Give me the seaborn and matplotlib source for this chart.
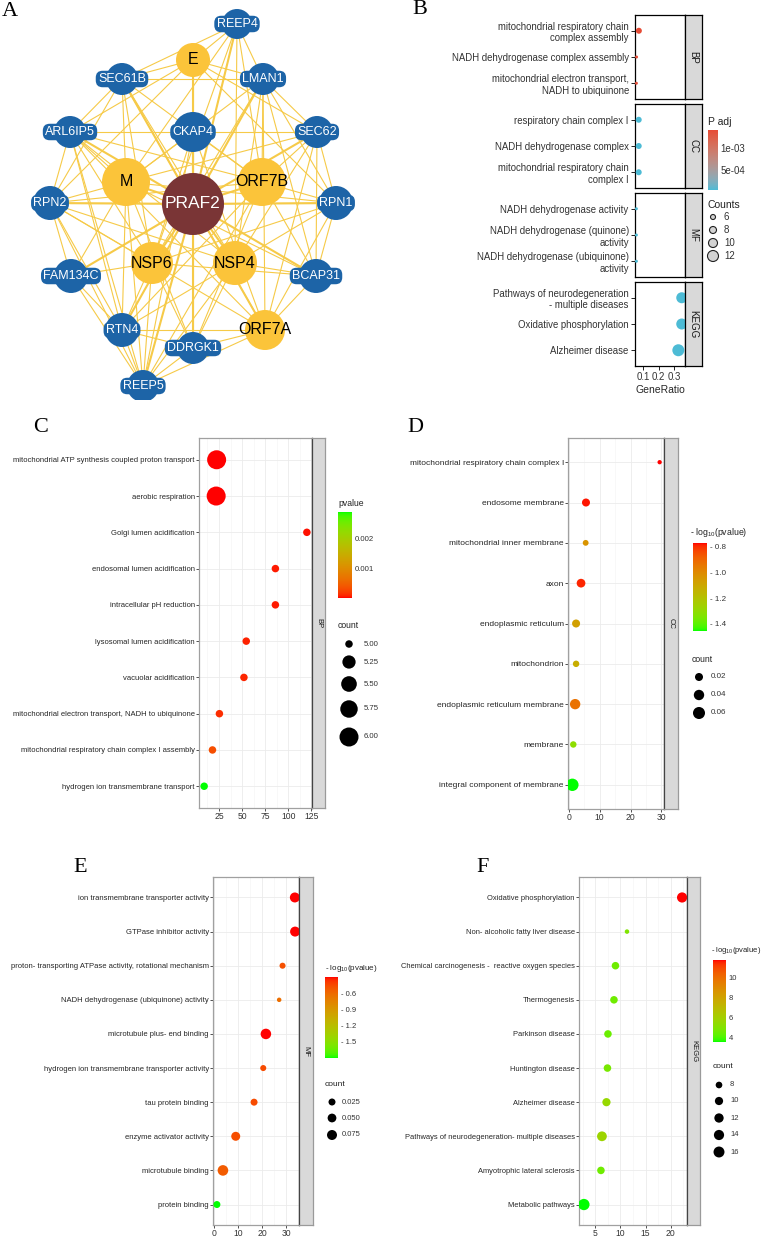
import numpy as np
import pandas as pd
import seaborn as sns
import matplotlib
import matplotlib.pyplot as plt
from matplotlib.colors import ListedColormap, Normalize
from matplotlib.cm import ScalarMappable
from matplotlib.collections import LineCollection
from matplotlib.patches import Circle

sns.set_style("white")
SANS = ["Liberation Sans", "DejaVu Sans"]
SERIF = ["Liberation Serif", "DejaVu Serif"]
plt.rcParams["font.family"] = SANS

# ---------------- data: network (panel A) ----------------
node_names = ["PRAF2", "M", "ORF7B", "NSP6", "NSP4", "E", "ORF7A",
              "CKAP4", "REEP4", "SEC61B", "LMAN1", "ARL6IP5", "SEC62", "RPN2", "RPN1",
              "FAM134C", "BCAP31", "RTN4", "DDRGK1", "REEP5"]
node_group = ["hub", "virus", "virus", "virus", "virus", "virus", "virus",
              "host", "host", "host", "host", "host", "host", "host", "host",
              "host", "host", "host", "host", "host"]
# layout positions (px inside panel A)
node_x = [193, 126, 262, 152, 235, 193, 265, 193, 237, 122, 263, 70, 317, 50, 336, 71, 316, 122, 193, 143]
node_y = [204, 182, 182, 263, 263, 60, 330, 132, 24, 79, 79, 132, 132, 203, 203, 276, 276, 330, 348, 386]
node_r = [31, 24, 24, 21, 22, 17, 20, 20, 15, 16, 16, 16, 16, 17, 17, 17, 17, 17, 16, 16]
edge_list = [
    "PRAF2 M", "PRAF2 ORF7B", "PRAF2 NSP6", "PRAF2 NSP4", "PRAF2 E", "PRAF2 ORF7A", "PRAF2 CKAP4",
    "PRAF2 REEP4", "PRAF2 SEC61B", "PRAF2 LMAN1", "PRAF2 ARL6IP5", "PRAF2 SEC62", "PRAF2 RPN2",
    "PRAF2 RPN1", "PRAF2 FAM134C", "PRAF2 BCAP31", "PRAF2 RTN4", "PRAF2 DDRGK1", "PRAF2 REEP5",
    "M REEP4", "M SEC61B", "M ARL6IP5", "M RPN2", "M RPN1", "M FAM134C", "M RTN4", "M REEP5",
    "M DDRGK1", "M CKAP4", "M BCAP31", "M LMAN1", "M SEC62",
    "ORF7B REEP4", "ORF7B LMAN1", "ORF7B SEC62", "ORF7B RPN1", "ORF7B BCAP31", "ORF7B CKAP4",
    "ORF7B SEC61B", "ORF7B RPN2", "ORF7B RTN4", "ORF7B DDRGK1", "ORF7B REEP5", "ORF7B ARL6IP5",
    "NSP6 REEP4", "NSP6 SEC61B", "NSP6 ARL6IP5", "NSP6 RPN2", "NSP6 FAM134C", "NSP6 RTN4",
    "NSP6 REEP5", "NSP6 DDRGK1", "NSP6 CKAP4", "NSP6 LMAN1", "NSP6 RPN1", "NSP6 BCAP31",
    "NSP4 REEP4", "NSP4 LMAN1", "NSP4 SEC62", "NSP4 RPN1", "NSP4 BCAP31", "NSP4 REEP5",
    "NSP4 DDRGK1", "NSP4 RTN4", "NSP4 SEC61B", "NSP4 ARL6IP5", "NSP4 RPN2",
    "ORF7A LMAN1", "ORF7A SEC62", "ORF7A RPN1", "ORF7A BCAP31", "ORF7A REEP5", "ORF7A RTN4",
    "ORF7A DDRGK1", "ORF7A SEC61B", "ORF7A ARL6IP5", "ORF7A RPN2", "ORF7A CKAP4",
    "E REEP4", "E SEC61B", "E LMAN1", "E ARL6IP5", "E RPN2", "E DDRGK1", "E SEC62", "E RPN1",
    "SEC61B ARL6IP5", "SEC61B LMAN1", "SEC61B REEP4", "RPN2 RPN1", "RPN2 FAM134C", "RPN2 ARL6IP5",
    "RTN4 REEP5", "RTN4 FAM134C", "ARL6IP5 REEP5", "RPN2 REEP5", "LMAN1 SEC62", "SEC62 RPN1",
    "RPN1 BCAP31", "CKAP4 SEC62", "CKAP4 ARL6IP5", "RTN4 DDRGK1", "DDRGK1 REEP5", "LMAN1 RPN1",
    "REEP4 LMAN1", "ARL6IP5 RTN4", "LMAN1 BCAP31", "RPN2 RTN4", "REEP5 CKAP4", "BCAP31 SEC62",
    "FAM134C REEP5", "SEC61B RPN2",
]

# ---------------- data: panel B ----------------
b_terms = ["mitochondrial respiratory chain\ncomplex assembly", "NADH dehydrogenase complex assembly",
           "mitochondrial electron transport,\nNADH to ubiquinone",
           "respiratory chain complex I", "NADH dehydrogenase complex",
           "mitochondrial respiratory chain\ncomplex I",
           "NADH dehydrogenase activity", "NADH dehydrogenase (quinone)\nactivity",
           "NADH dehydrogenase (ubiquinone)\nactivity",
           "Pathways of neurodegeneration\n- multiple diseases", "Oxidative phosphorylation",
           "Alzheimer disease"]
b_facet = ["BP", "BP", "BP", "CC", "CC", "CC", "MF", "MF", "MF", "KEGG", "KEGG", "KEGG"]
b_ratio = [0.073, 0.058, 0.057, 0.072, 0.072, 0.072, 0.057, 0.057, 0.057, 0.350, 0.350, 0.328]
b_count = [7, 4, 4, 7, 7, 7, 4, 4, 4, 12, 12, 13]
b_padj = [1.41e-3, 1.38e-3, 1.38e-3, 4.6e-5, 4.6e-5, 4.6e-5, 4.5e-5, 4.5e-5, 4.5e-5, 4.5e-5, 4.5e-5, 4.6e-5]

# ---------------- data: panel C (BP) ----------------
c_terms = ["mitochondrial ATP synthesis coupled proton transport", "aerobic respiration",
           "Golgi lumen acidification", "endosomal lumen acidification", "intracellular pH reduction",
           "lysosomal lumen acidification", "vacuolar acidification",
           "mitochondrial electron transport, NADH to ubiquinone",
           "mitochondrial respiratory chain complex I assembly", "hydrogen ion transmembrane transport"]
c_x = [22.5, 22.0, 120.0, 86.0, 86.0, 54.5, 52.0, 25.5, 18.0, 9.0]
c_pvalue = [2e-6, 2e-6, 3e-5, 5e-5, 5e-5, 8e-5, 9e-5, 1.2e-4, 3.2e-4, 2.87e-3]
c_count = [6, 6, 5, 5, 5, 5, 5, 5, 5, 5]

# ---------------- data: panel D (CC) ----------------
d_terms = ["mitochondrial respiratory chain complex I", "endosome membrane", "mitochondrial inner membrane",
           "axon", "endoplasmic reticulum", "mitochondrion", "endoplasmic reticulum membrane",
           "membrane", "integral component of membrane"]
d_x = [29.4, 5.6, 5.5, 4.0, 2.4, 2.4, 2.1, 1.5, 1.2]
d_logp = [-0.77, -0.78, -1.03, -0.79, -1.07, -1.12, -0.93, -1.31, -1.455]
d_count = [0.008, 0.02, 0.01, 0.025, 0.02, 0.012, 0.04, 0.012, 0.065]

# ---------------- data: panel E (MF) ----------------
e_terms = ["ion transmembrane transporter activity", "GTPase inhibitor activity",
           "proton- transporting ATPase activity, rotational mechanism",
           "NADH dehydrogenase (ubiquinone) activity", "microtubule plus- end binding",
           "hydrogen ion transmembrane transporter activity", "tau protein binding",
           "enzyme activator activity", "microtubule binding", "protein binding"]
e_x = [33.5, 33.6, 28.4, 27.0, 21.5, 20.4, 16.6, 9.0, 3.7, 1.2]
e_logp = [-0.31, -0.31, -0.48, -0.63, -0.305, -0.46, -0.46, -0.47, -0.53, -1.795]
e_count = [0.075, 0.075, 0.017, 0.012, 0.088, 0.017, 0.025, 0.054, 0.09, 0.025]

# ---------------- data: panel F (KEGG) ----------------
f_terms = ["Oxidative phosphorylation", "Non- alcoholic fatty liver disease",
           "Chemical carcinogenesis -  reactive oxygen species", "Thermogenesis", "Parkinson disease",
           "Huntington disease", "Alzheimer disease", "Pathways of neurodegeneration- multiple diseases",
           "Amyotrophic lateral sclerosis", "Metabolic pathways"]
f_x = [22.3, 11.3, 9.0, 8.7, 7.5, 7.4, 7.2, 6.3, 6.1, 2.7]
f_logp = [11.8, 5.0, 4.6, 4.6, 4.5, 4.8, 5.6, 5.8, 4.6, 3.6]
f_count = [14, 7, 9, 9, 9, 9, 10, 13, 9, 17]

# ---------------- helpers ----------------
W, H = 763, 1239
fig = plt.figure(figsize=(W / 100, H / 100), dpi=100)


def px_axes(x0, y0, x1, y1):
    return fig.add_axes([x0 / W, 1 - y1 / H, (x1 - x0) / W, (y1 - y0) / H])


_M = np.array([[0.4124, 0.3576, 0.1805], [0.2126, 0.7152, 0.0722], [0.0193, 0.1192, 0.9505]])
_WP = np.array([0.95047, 1.0, 1.08883])


def to_lab(color):
    rgb = np.array(matplotlib.colors.to_rgb(color))
    lin = np.where(rgb <= 0.04045, rgb / 12.92, ((rgb + 0.055) / 1.055) ** 2.4)
    xyz = _M @ lin / _WP
    f = np.where(xyz > 0.008856, np.cbrt(xyz), 7.787 * xyz + 16 / 116)
    return np.array([116 * f[1] - 16, 500 * (f[0] - f[1]), 200 * (f[1] - f[2])])


def lab_gradient(low, high, n=256):
    # ggplot-like gradient (interpolated in Lab space)
    t = np.linspace(0, 1, n)[:, None]
    lab = to_lab(low) * (1 - t) + to_lab(high) * t
    fy = (lab[:, 0] + 16) / 116
    f = np.stack([fy + lab[:, 1] / 500, fy, fy - lab[:, 2] / 200], axis=1)
    xyz = np.where(f ** 3 > 0.008856, f ** 3, (f - 16 / 116) / 7.787) * _WP
    lin = np.clip(xyz @ np.linalg.inv(_M).T, 0, 1)
    rgb = np.where(lin <= 0.0031308, 12.92 * lin, 1.055 * lin ** (1 / 2.4) - 0.055)
    return ListedColormap(np.clip(rgb, 0, 1))


def sqrt_sizes(values, d0, d1):
    v0, v1 = min(values), max(values)

    def area(v):
        t = np.clip((v - v0) / (v1 - v0), 0, 1)
        return float(((d0 + (d1 - d0) * np.sqrt(t)) * 0.72) ** 2)
    return area


def color_bar(box, cmap, vals, ticks, labels, fs):
    cax = px_axes(*box)
    cb = fig.colorbar(ScalarMappable(Normalize(min(vals), max(vals)), cmap), cax=cax)
    cb.outline.set_visible(False)
    cb.set_ticks(ticks, labels=labels)
    cax.tick_params(direction="in", length=2.5, width=0.6, color="white", labelsize=fs,
                    labelcolor="#333333", pad=2, left=True, right=True)
    return cax


# overlay for titles / legend keys (pixel coordinates)
lay = fig.add_axes([0, 0, 1, 1], zorder=5)
lay.set_xlim(0, W)
lay.set_ylim(H, 0)
lay.axis("off")


def size_key(x, ys, values, labels, area, lx, fs, fc="black", ec="none"):
    lay.scatter([x] * len(ys), ys, s=[area(v) for v in values], c=fc, edgecolors=ec, linewidths=0.8)
    for y, lab in zip(ys, labels):
        lay.text(lx, y, lab, va="center", ha="left", fontsize=fs, color="#333333")


def dot_panel(box, strip_x, terms, xs, vals, counts, cmap, area, facet, fs, major, minor):
    x0, y0, x1, y1 = box
    ax = px_axes(x0, y0, x1, y1)
    df = pd.DataFrame({"term": terms, "x": xs, "val": vals, "cnt": counts})
    df["row"] = np.arange(len(df))
    sns.scatterplot(data=df, x="x", y="row", hue="val", palette=cmap,
                    hue_norm=(df["val"].min(), df["val"].max()),
                    size="cnt", sizes={c: area(c) for c in df["cnt"].unique()},
                    linewidth=0, legend=False, ax=ax, zorder=3)
    pad = 0.05 * (df["x"].max() - df["x"].min())
    ax.set_xlim(df["x"].min() - pad, df["x"].max() + pad)
    ax.set_ylim(len(df) - 0.4, -0.6)
    ax.set_yticks(df["row"], df["term"], fontsize=fs, color="#262626")
    ax.set_xticks(major, [f"{t:g}" for t in major], fontsize=6.2, color="#333333")
    ax.set_xticks(minor, minor=True)
    ax.set_xlabel("")
    ax.set_ylabel("")
    ax.set_axisbelow(True)
    ax.grid(which="major", color="#EBEBEB", lw=0.6)
    ax.grid(which="minor", axis="x", color="#F3F3F3", lw=0.4)
    ax.tick_params(which="major", left=True, bottom=True, length=2, width=0.6,
                   color="#333333", pad=1)
    ax.tick_params(which="minor", length=0)
    for sp in ax.spines.values():
        sp.set_color("#A0A0A0")
        sp.set_linewidth(0.9)
    ax.spines["right"].set_color("#444444")
    sax = px_axes(x1, y0, strip_x, y1)
    sax.set_facecolor("#D9D9D9")
    sax.set_xticks([])
    sax.set_yticks([])
    for sp in sax.spines.values():
        sp.set_color("#9A9A9A")
        sp.set_linewidth(0.9)
    sax.spines["left"].set_color("#444444")
    sax.text(0.5, 0.5, facet, rotation=-90, transform=sax.transAxes, ha="center", va="center",
             fontsize=5.5, color="#1A1A1A")
    return ax


# ---------------- panel A: network ----------------
axa = px_axes(0, 0, 380, 400)
axa.set_xlim(0, 380)
axa.set_ylim(400, 0)
axa.axis("off")
pos = {n: (x, y) for n, x, y in zip(node_names, node_x, node_y)}
segs, widths = [], []
for e in edge_list:
    a, b = e.split()
    segs.append([pos[a], pos[b]])
    widths.append(1.5 if "PRAF2" in (a, b) else 0.8)
axa.add_collection(LineCollection(segs, colors="#F6CA48", linewidths=widths, zorder=1))
node_color = {"hub": "#7A3536", "virus": "#FBC43A", "host": "#1D64A7"}
for n, g, x, y, r in zip(node_names, node_group, node_x, node_y, node_r):
    axa.add_patch(Circle((x, y), r, fc=node_color[g], ec="none", zorder=3))
    if g == "host":
        axa.text(x, y, n, ha="center", va="center", fontsize=9, color="white", zorder=4,
                 bbox=dict(boxstyle="round,pad=0.18,rounding_size=0.55", fc=node_color[g], ec="none"))
    elif g == "hub":
        axa.text(x, y, n, ha="center", va="center", fontsize=12.5, color="white", zorder=4)
    else:
        axa.text(x, y, n, ha="center", va="center", fontsize=11.5, color="black", zorder=4)

# ---------------- panel B: faceted dot plot ----------------
b_df = pd.DataFrame({"term": b_terms, "facet": b_facet, "ratio": b_ratio,
                     "count": b_count, "padj": b_padj})
b_cmap = lab_gradient("#4DBBD5", "#E64B35")


def b_area(v):
    return float(((3 + (v - 4)) * 0.72) ** 2)


b_boxes = {"BP": (15, 99), "CC": (104, 188), "MF": (193, 277), "KEGG": (282, 366)}
for facet, (y0, y1) in b_boxes.items():
    sub = b_df[b_df["facet"] == facet].reset_index(drop=True)
    sub["row"] = np.arange(len(sub))
    ax = px_axes(635, y0, 685, y1)
    sns.scatterplot(data=sub, x="ratio", y="row", hue="padj", palette=b_cmap,
                    hue_norm=(b_df["padj"].min(), b_df["padj"].max()),
                    size="count", sizes={c: b_area(c) for c in sub["count"].unique()},
                    linewidth=0, legend=False, ax=ax, zorder=3)
    ax.set_xlim(0.048, 0.371)
    ax.set_ylim(2.6, -0.6)
    ax.set_yticks(sub["row"], sub["term"], fontsize=6.9, color="#333333")
    ax.set_xlabel("")
    ax.set_ylabel("")
    ax.tick_params(axis="y", left=True, length=3, width=0.7, color="#222222", pad=1.5)
    if facet == "KEGG":
        ax.set_xticks([0.1, 0.2, 0.3], ["0.1", "0.2", "0.3"], fontsize=7, color="#333333")
        ax.tick_params(axis="x", bottom=True, length=3, width=0.7, color="#222222", pad=1.5)
        ax.set_xlabel("GeneRatio", fontsize=7.5, labelpad=2)
    else:
        ax.set_xticks([])
    for sp in ax.spines.values():
        sp.set_color("black")
        sp.set_linewidth(0.9)
    sax = px_axes(685, y0, 702, y1)
    sax.set_facecolor("#D9D9D9")
    sax.set_xticks([])
    sax.set_yticks([])
    for sp in sax.spines.values():
        sp.set_color("black")
        sp.set_linewidth(0.9)
    sax.text(0.5, 0.5, facet, rotation=-90, transform=sax.transAxes, ha="center", va="center",
             fontsize=7, color="#1A1A1A")

color_bar((708, 130, 718, 190), b_cmap, b_padj, [5e-4, 1e-3], ["5e-04", "1e-03"], 7)
lay.text(708, 127, "P adj", fontsize=7.5, va="bottom", ha="left", color="#222222")
lay.text(708, 205, "Counts", fontsize=7.5, va="center", ha="left", color="#222222")
size_key(713, [217, 230, 243, 256], [6, 8, 10, 12], ["6", "8", "10", "12"], b_area, 724, 7,
         fc="#D3D3D3", ec="#222222")

# ---------------- panel C ----------------
c_cmap = lab_gradient("#FF0000", "#00FF00")
c_area = sqrt_sizes(c_count, 7.5, 19)
dot_panel((199, 438, 312, 808), 325, c_terms, c_x, c_pvalue, c_count, c_cmap, c_area, "BP", 5.5,
          [25, 50, 75, 100, 125], [12.5, 37.5, 62.5, 87.5, 112.5])
color_bar((338, 512, 352, 598), c_cmap, c_pvalue, [0.001, 0.002], ["0.001", "0.002"], 5.6)
lay.text(338, 508, "pvalue", fontsize=6.2, va="bottom", ha="left", color="#222222")
lay.text(338, 626, "count", fontsize=6.2, va="center", ha="left", color="#222222")
size_key(349, [644, 662, 684, 709, 737], [5.0, 5.25, 5.5, 5.75, 6.0],
         ["5.00", "5.25", "5.50", "5.75", "6.00"], c_area, 364, 5.6)

# ---------------- panel D ----------------
g2r = lab_gradient("#00FF00", "#FF0000")
d_area = sqrt_sizes(d_count, 4.3, 12.4)
dot_panel((568, 438, 664, 809), 678, d_terms, d_x, d_logp, d_count, g2r, d_area, "CC", 6.0,
          [0, 10, 20, 30], [5, 15, 25])
color_bar((693, 543, 707, 631), g2r, d_logp, [-1.4, -1.2, -1.0, -0.8],
          ["- 1.4", "- 1.2", "- 1.0", "- 0.8"], 5.8)
lay.text(690, 539, r"- log$\mathregular{_{10}}$(pvalue)", fontsize=6.3, va="bottom", ha="left", color="#222222")
lay.text(692, 659, "count", fontsize=6.2, va="center", ha="left", color="#222222")
size_key(699, [677, 695, 713], [0.02, 0.04, 0.06], ["0.02", "0.04", "0.06"], d_area, 711, 5.8)

# ---------------- panel E ----------------
e_area = sqrt_sizes(e_count, 4.5, 10.6)
dot_panel((213, 877, 299, 1225), 313, e_terms, e_x, e_logp, e_count, g2r, e_area, "MF", 5.5,
          [0, 10, 20, 30], [5, 15, 25, 35])
color_bar((325, 977, 338, 1058), g2r, e_logp, [-1.5, -1.2, -0.9, -0.6],
          ["- 1.5", "- 1.2", "- 0.9", "- 0.6"], 5.5)
lay.text(325, 974, r"- log$\mathregular{_{10}}$(pvalue)", fontsize=5.8, va="bottom", ha="left", color="#222222")
lay.text(325, 1084, "count", fontsize=6.0, va="center", ha="left", color="#222222")
size_key(332, [1102, 1118, 1135], [0.025, 0.05, 0.075], ["0.025", "0.050", "0.075"], e_area, 342, 5.5)

# ---------------- panel F ----------------
f_area = sqrt_sizes(f_count, 4.5, 11.3)
dot_panel((579, 877, 687, 1225), 700, f_terms, f_x, f_logp, f_count, g2r, f_area, "KEGG", 5.4,
          [5, 10, 15, 20], [2.5, 7.5, 12.5, 17.5, 22.5])
color_bar((713, 960, 726, 1042), g2r, f_logp, [4, 6, 8, 10], ["4", "6", "8", "10"], 5.5)
lay.text(711, 956, r"- log$\mathregular{_{10}}$(pvalue)", fontsize=5.5, va="bottom", ha="left", color="#222222")
lay.text(713, 1067, "count", fontsize=6.0, va="center", ha="left", color="#222222")
size_key(719, [1085, 1101, 1118, 1135, 1152], [8, 10, 12, 14, 16], ["8", "10", "12", "14", "16"],
         f_area, 730, 5.5)

# ---------------- panel letters ----------------
for letter, x, y in [("A", 2, 11), ("B", 412, 10), ("C", 33, 427), ("D", 407, 428),
                     ("E", 73, 868), ("F", 476, 868)]:
    lay.text(x, y, letter, fontsize=16, family=SERIF, va="center", ha="left", color="black")

fig.savefig("out.png", dpi=100)
